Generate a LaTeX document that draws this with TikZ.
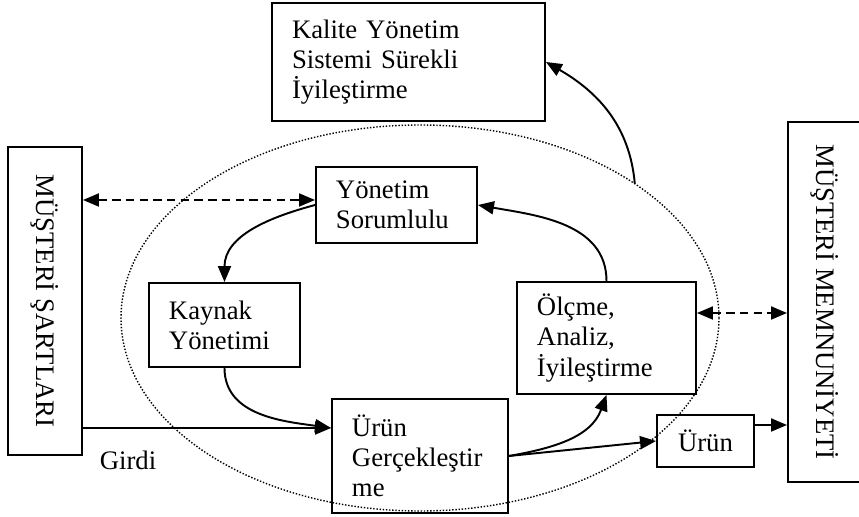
\documentclass[tikz,border=0pt]{standalone}
\usepackage{fontspec}
\setmainfont{Liberation Serif}
\usetikzlibrary{arrows.meta,shapes.geometric}
\tikzset{
  box/.style={draw, line width=0.55pt, align=left, inner xsep=0.2cm, inner ysep=0pt,
    font=\fontsize{7.6}{8.6}\selectfont},
  vbox/.style={draw, line width=0.55pt, rotate=-90, minimum height=0.74cm, inner sep=0pt,
    font=\fontsize{7.6}{8.6}\selectfont},
  arr/.style={line width=0.55pt, -{Triangle[length=0.16cm,width=0.13cm]}},
  dasharr/.style={line width=0.55pt, dash pattern=on 2.4pt off 1.5pt,
    {Triangle[length=0.16cm,width=0.13cm]}-{Triangle[length=0.16cm,width=0.13cm]}},
}
\begin{document}
\begin{tikzpicture}[x=1cm,y=-1cm]
\useasboundingbox (0,0) rectangle (8.59,5.17);
% the system ellipse
\node[ellipse, draw, line width=0.4pt, dash pattern=on 0.4pt off 0.5pt, inner sep=0pt, outer sep=0pt,
  minimum width=5.98cm, minimum height=3.86cm] (qms) at (4.20,3.18) {};
% the boxes
\node[box, text width=2.33cm, minimum height=1.18cm] (kal) at (4.085,0.62) {Kalite Yönetim\\Sistemi Sürekli\\İyileştirme};
\node[box, text width=1.21cm, minimum height=0.76cm] (yon) at (3.965,2.05) {Yönetim\\Sorumlulu};
\node[box, text width=1.11cm, minimum height=0.84cm] (kay) at (2.245,3.25) {Kaynak\\Yönetimi};
\node[box, text width=1.39cm, minimum height=1.12cm] (olc) at (6.065,3.38) {Ölçme,\\Analiz,\\İyileştirme};
\node[box, text width=1.36cm, minimum height=1.14cm] (ug) at (4.20,4.56) {Ürün\\Gerçekleştir\\me};
\node[box, align=center, inner xsep=0pt, text width=0.97cm, minimum height=0.52cm] (urun) at (7.055,4.41) {Ürün};
% customer boxes, text turned
\node[vbox, minimum width=3.08cm] (lft) at (0.45,3.01) {MÜŞTERİ ŞARTLARI};
\node[vbox, minimum width=3.60cm] (rgt) at (8.25,3.02) {MÜŞTERİ MEMNUNİYETİ};
% the input label
\node[font=\fontsize{7.6}{8.6}\selectfont] (gir) at (1.28,4.60) {Girdi};
% points where lines meet the boxes
\coordinate (yonw) at ([yshift=0.05cm]yon.west);
\coordinate (gin) at ([yshift=0.28cm]ug.west);
\coordinate (olce) at ([yshift=0.25cm]olc.east);
\coordinate (urne) at ([yshift=0.16cm]urun.east);
% the connectors
\draw[dasharr] (yonw -| lft.north) -- (yonw);
\draw[arr] (yon.west) to[out=195,in=90] (kay.north);
\draw[arr] (kay.south) to[out=-90,in=172] (gin);
\draw[arr] (gin -| lft.north) -- (gin);
\draw[arr] (ug.east) to[out=10,in=-110] (olc.south);
\draw[arr] (ug.east) -- (urun.west);
\draw[arr] (urne) -- (urne -| rgt.south);
\draw[dasharr] (olce) -- (olce -| rgt.south);
\draw[arr] (olc.north) to[out=90,in=-10] (yon.east);
\draw[arr] (qms.32) to[out=95,in=-30] (kal.east);
\end{tikzpicture}
\end{document}
